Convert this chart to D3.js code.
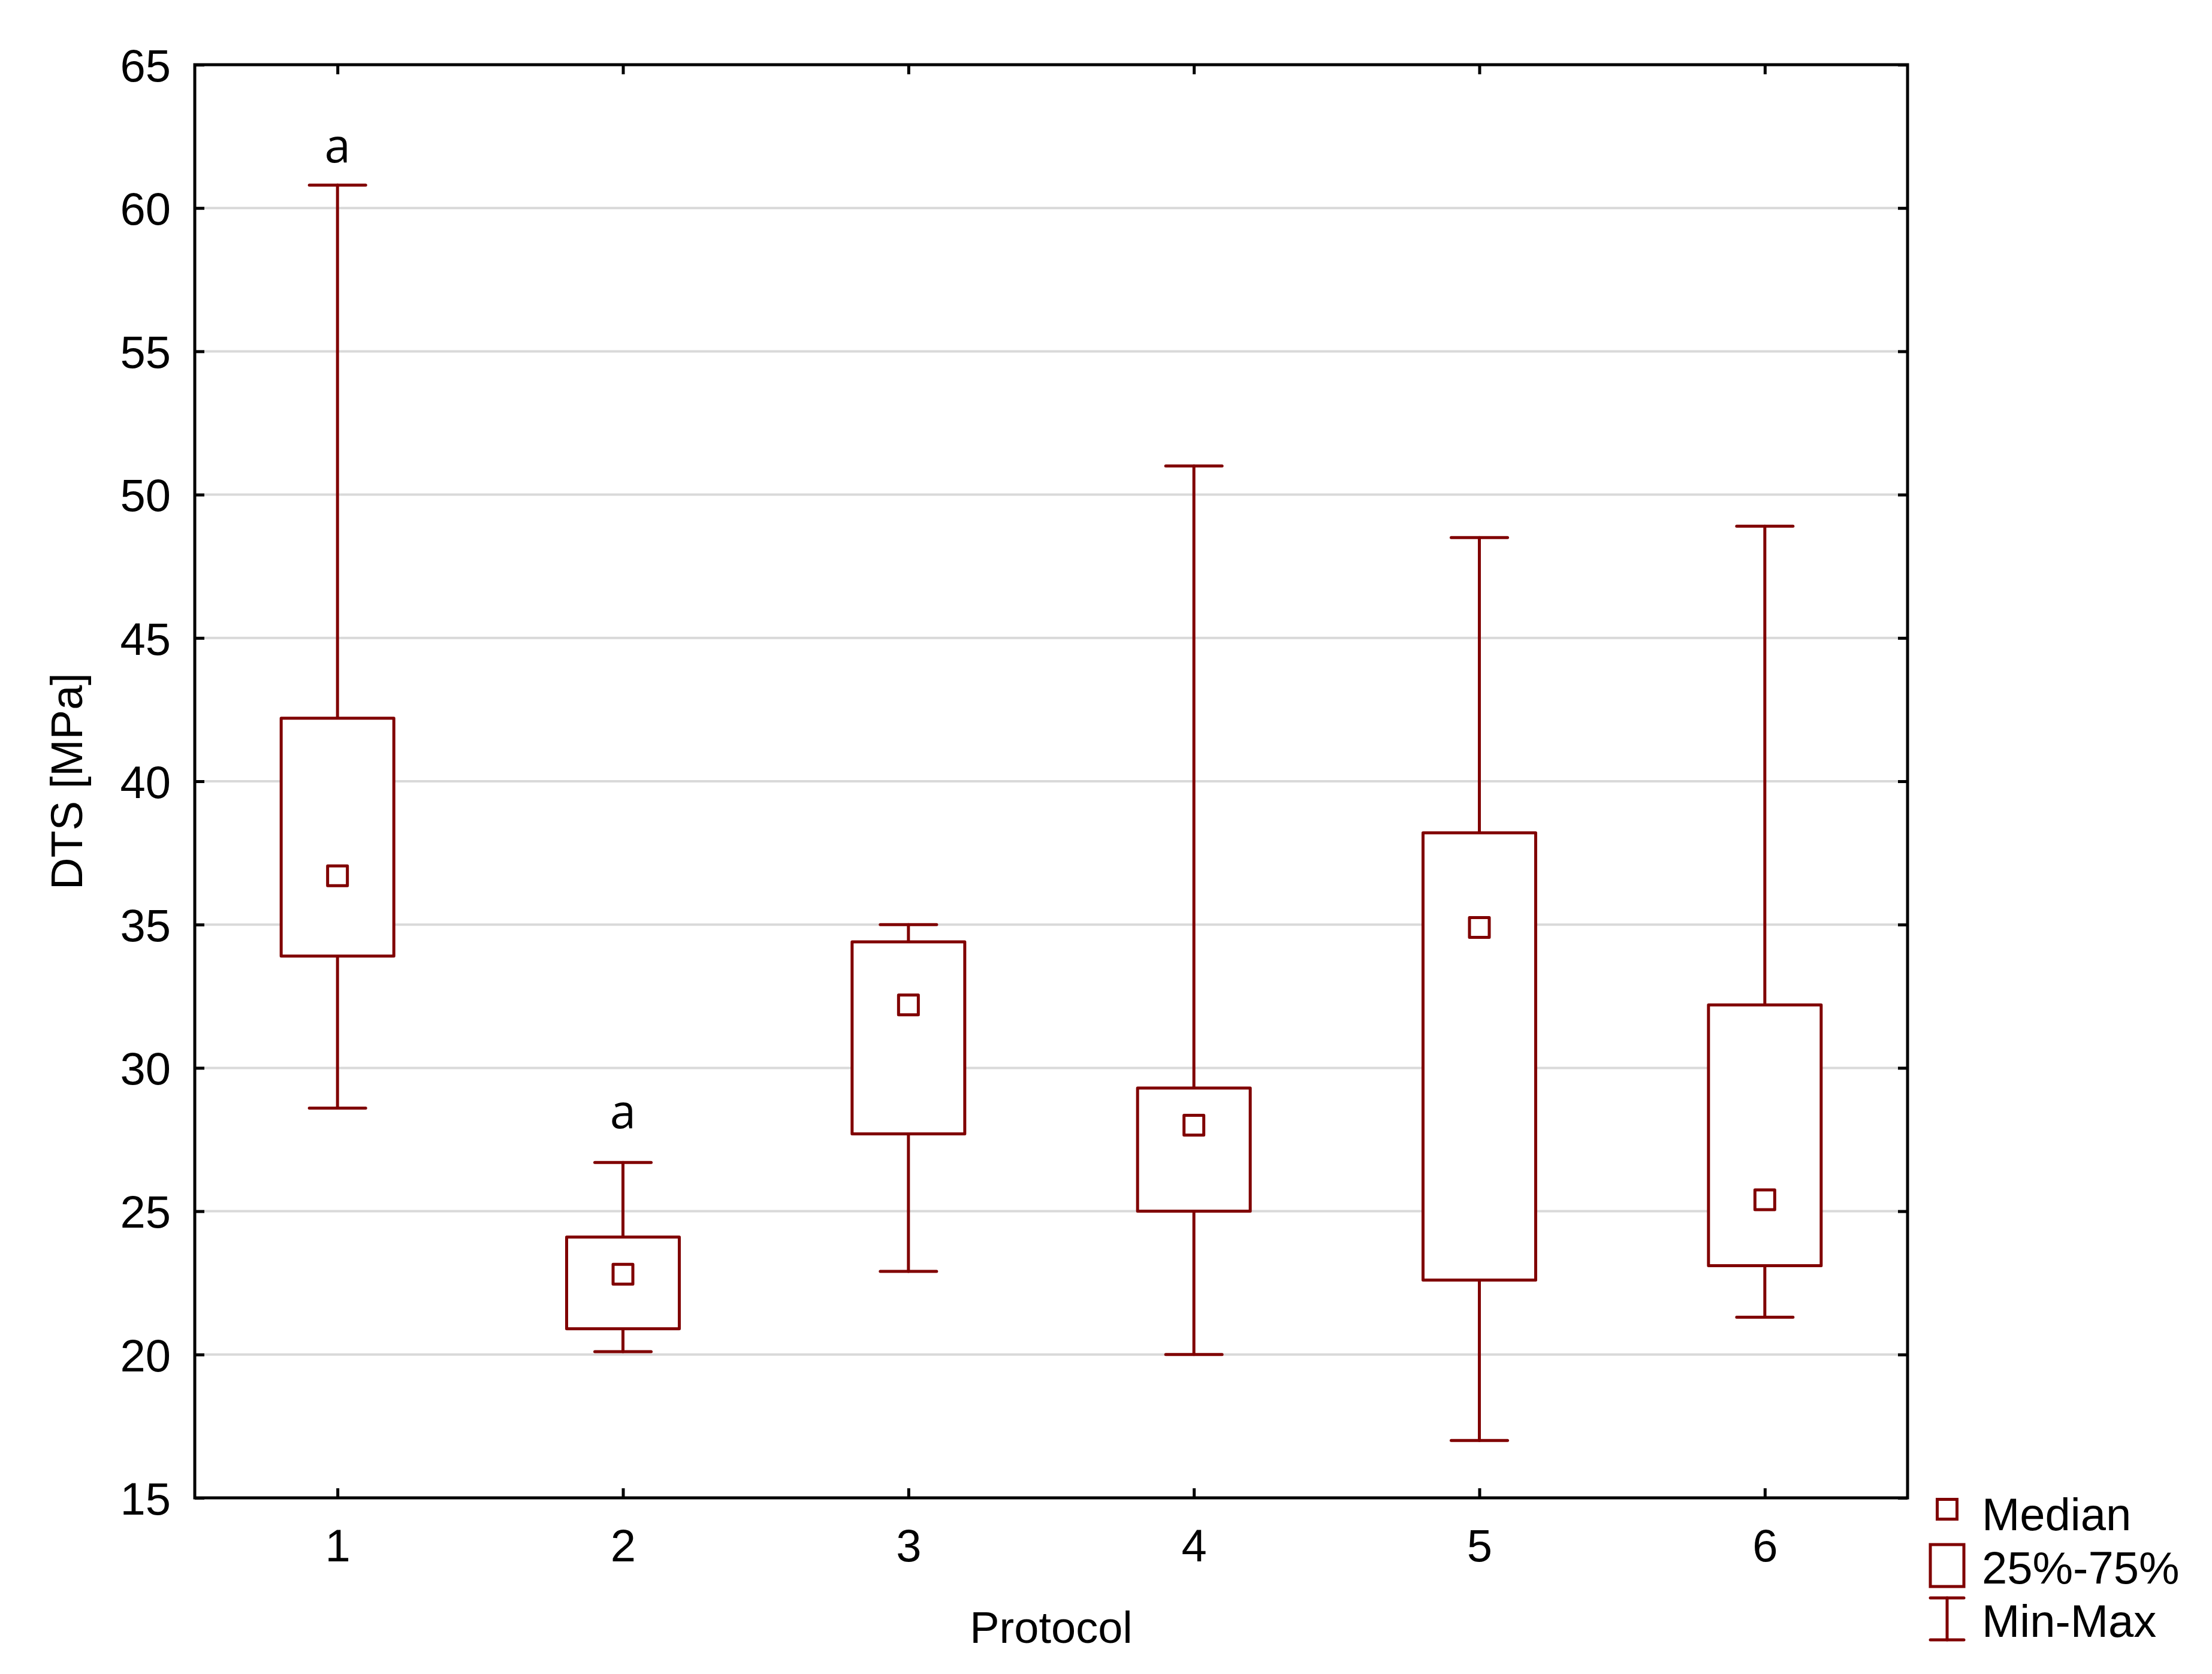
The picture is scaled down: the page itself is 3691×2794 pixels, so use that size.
<!DOCTYPE html>
<html>
<head>
<meta charset="utf-8">
<script src="https://cdn.jsdelivr.net/npm/d3@7"></script>
<style>
  body { margin: 0; background: #fff; }
  text { font-family: "Liberation Sans", Arial, sans-serif; }
</style>
</head>
<body>
<svg id="plot" width="3691" height="2794"></svg>
<script>
// data
const protocols = [1, 2, 3, 4, 5, 6];
const mins    = [28.6, 20.1, 22.9, 20.0, 17.0, 21.3];
const q1s     = [33.9, 20.9, 27.7, 25.0, 22.6, 23.1];
const medians = [36.7, 22.8, 32.2, 28.0, 34.9, 25.4];
const q3s     = [42.2, 24.1, 34.4, 29.3, 38.2, 32.2];
const maxs    = [60.8, 26.7, 35.0, 51.0, 48.5, 48.9];
const letters = ["a", "a", "", "", "", ""];
const letterAt = [61.6, 27.9, 0, 0, 0, 0];
const yTicks = [15, 20, 25, 30, 35, 40, 45, 50, 55, 60, 65];

const svg = d3.select("#plot");
const red = "#800000";
const plotL = 325, plotR = 3183, plotT = 108, plotB = 2500;
const boxW = 188, capW = 94, medS = 33, tickLen = 16;

const x = d3.scaleLinear().domain([0.5, 6.5]).range([plotL, plotR]);
const y = d3.scaleLinear().domain([15, 65]).range([plotB, plotT]);

const rows = protocols.map((p, i) => ({
    p: p, min: mins[i], q1: q1s[i], med: medians[i], q3: q3s[i], max: maxs[i],
    letter: letters[i], letterY: letterAt[i]
}));

// gridlines
svg.append("g").selectAll("line")
    .data(yTicks.slice(1, -1))
    .enter().append("line")
        .attr("x1", plotL).attr("x2", plotR)
        .attr("y1", d => y(d)).attr("y2", d => y(d))
        .attr("stroke", "#d9d9d9")
        .attr("stroke-width", 4);

// axes with inward ticks
const yAxis = svg.append("g")
    .attr("transform", `translate(${plotL},0)`)
    .call(d3.axisLeft(y).tickValues(yTicks).tickSize(-tickLen).tickPadding(40));
const yAxisR = svg.append("g")
    .attr("transform", `translate(${plotR},0)`)
    .call(d3.axisRight(y).tickValues(yTicks).tickSize(-tickLen).tickFormat(""));
const xAxis = svg.append("g")
    .attr("transform", `translate(0,${plotB})`)
    .call(d3.axisBottom(x).tickValues(protocols).tickFormat(d3.format("d"))
        .tickSize(-tickLen).tickPadding(52));
const xAxisT = svg.append("g")
    .attr("transform", `translate(0,${plotT})`)
    .call(d3.axisTop(x).tickValues(protocols).tickSize(-tickLen).tickFormat(""));

[yAxis, yAxisR, xAxis, xAxisT].forEach(g => {
    g.select(".domain").remove();
    g.selectAll(".tick line").attr("stroke", "#000").attr("stroke-width", 5);
    g.selectAll(".tick text")
        .attr("font-family", "Liberation Sans, Arial, sans-serif")
        .attr("font-size", 76)
        .attr("fill", "#000");
});
yAxis.selectAll(".tick text").attr("dy", "0.36em");

// frame
svg.append("rect")
    .attr("x", plotL).attr("y", plotT)
    .attr("width", plotR - plotL).attr("height", plotB - plotT)
    .attr("fill", "none")
    .attr("stroke", "#000")
    .attr("stroke-width", 5);

// boxes
const g = svg.append("g")
    .attr("stroke", red)
    .attr("stroke-width", 5)
    .attr("fill", "none")
    .attr("stroke-linecap", "round")
    .attr("stroke-linejoin", "round");

const box = g.selectAll("g.box")
    .data(rows)
    .enter().append("g")
        .attr("class", "box");

// upper whisker
box.append("line")
    .attr("x1", d => x(d.p)).attr("x2", d => x(d.p))
    .attr("y1", d => y(d.q3)).attr("y2", d => y(d.max));
// lower whisker
box.append("line")
    .attr("x1", d => x(d.p)).attr("x2", d => x(d.p))
    .attr("y1", d => y(d.q1)).attr("y2", d => y(d.min));
// caps
box.append("line")
    .attr("x1", d => x(d.p) - capW / 2).attr("x2", d => x(d.p) + capW / 2)
    .attr("y1", d => y(d.max)).attr("y2", d => y(d.max));
box.append("line")
    .attr("x1", d => x(d.p) - capW / 2).attr("x2", d => x(d.p) + capW / 2)
    .attr("y1", d => y(d.min)).attr("y2", d => y(d.min));
// IQR box
box.append("rect")
    .attr("x", d => x(d.p) - boxW / 2)
    .attr("y", d => y(d.q3))
    .attr("width", boxW)
    .attr("height", d => y(d.q1) - y(d.q3))
    .attr("fill", "#fff");
// median
box.append("rect")
    .attr("x", d => x(d.p) - medS / 2)
    .attr("y", d => y(d.med) - medS / 2)
    .attr("width", medS)
    .attr("height", medS);

// significance letters
svg.append("g").selectAll("text")
    .data(rows.filter(d => d.letter))
    .enter().append("text")
        .attr("x", d => x(d.p))
        .attr("y", d => y(d.letterY))
        .attr("text-anchor", "middle")
        .style("font-family", "'Open Sans', sans-serif")
        .attr("font-size", 78)
        .attr("fill", "#000")
        .text(d => d.letter);

// axis titles
svg.append("text")
    .attr("x", (plotL + plotR) / 2)
    .attr("y", 2742)
    .attr("text-anchor", "middle")
    .attr("font-size", 74)
    .text("Protocol");

svg.append("text")
    .attr("transform", `translate(137,${(plotT + plotB) / 2}) rotate(-90)`)
    .attr("text-anchor", "middle")
    .attr("font-size", 74)
    .text("DTS [MPa]");

// legend
const legX = 3249, legTextX = 3307;
const leg = svg.append("g")
    .attr("stroke", red)
    .attr("stroke-width", 5)
    .attr("fill", "none")
    .attr("stroke-linecap", "round");

leg.append("rect")
    .attr("x", legX - medS / 2).attr("y", 2519 - medS / 2)
    .attr("width", medS).attr("height", medS);
leg.append("rect")
    .attr("x", legX - 28).attr("y", 2578)
    .attr("width", 56).attr("height", 70);
leg.append("line")
    .attr("x1", legX - 28).attr("x2", legX + 28)
    .attr("y1", 2667).attr("y2", 2667);
leg.append("line")
    .attr("x1", legX - 28).attr("x2", legX + 28)
    .attr("y1", 2737).attr("y2", 2737);
leg.append("line")
    .attr("x1", legX).attr("x2", legX)
    .attr("y1", 2667).attr("y2", 2737);

const legLabels = ["Median", "25%-75%", "Min-Max"];
const legBase = [2554, 2643, 2732];
svg.append("g").selectAll("text")
    .data(legLabels)
    .enter().append("text")
        .attr("x", legTextX)
        .attr("y", (d, i) => legBase[i])
        .attr("font-size", 76)
        .text(d => d);
</script>
</body>
</html>
